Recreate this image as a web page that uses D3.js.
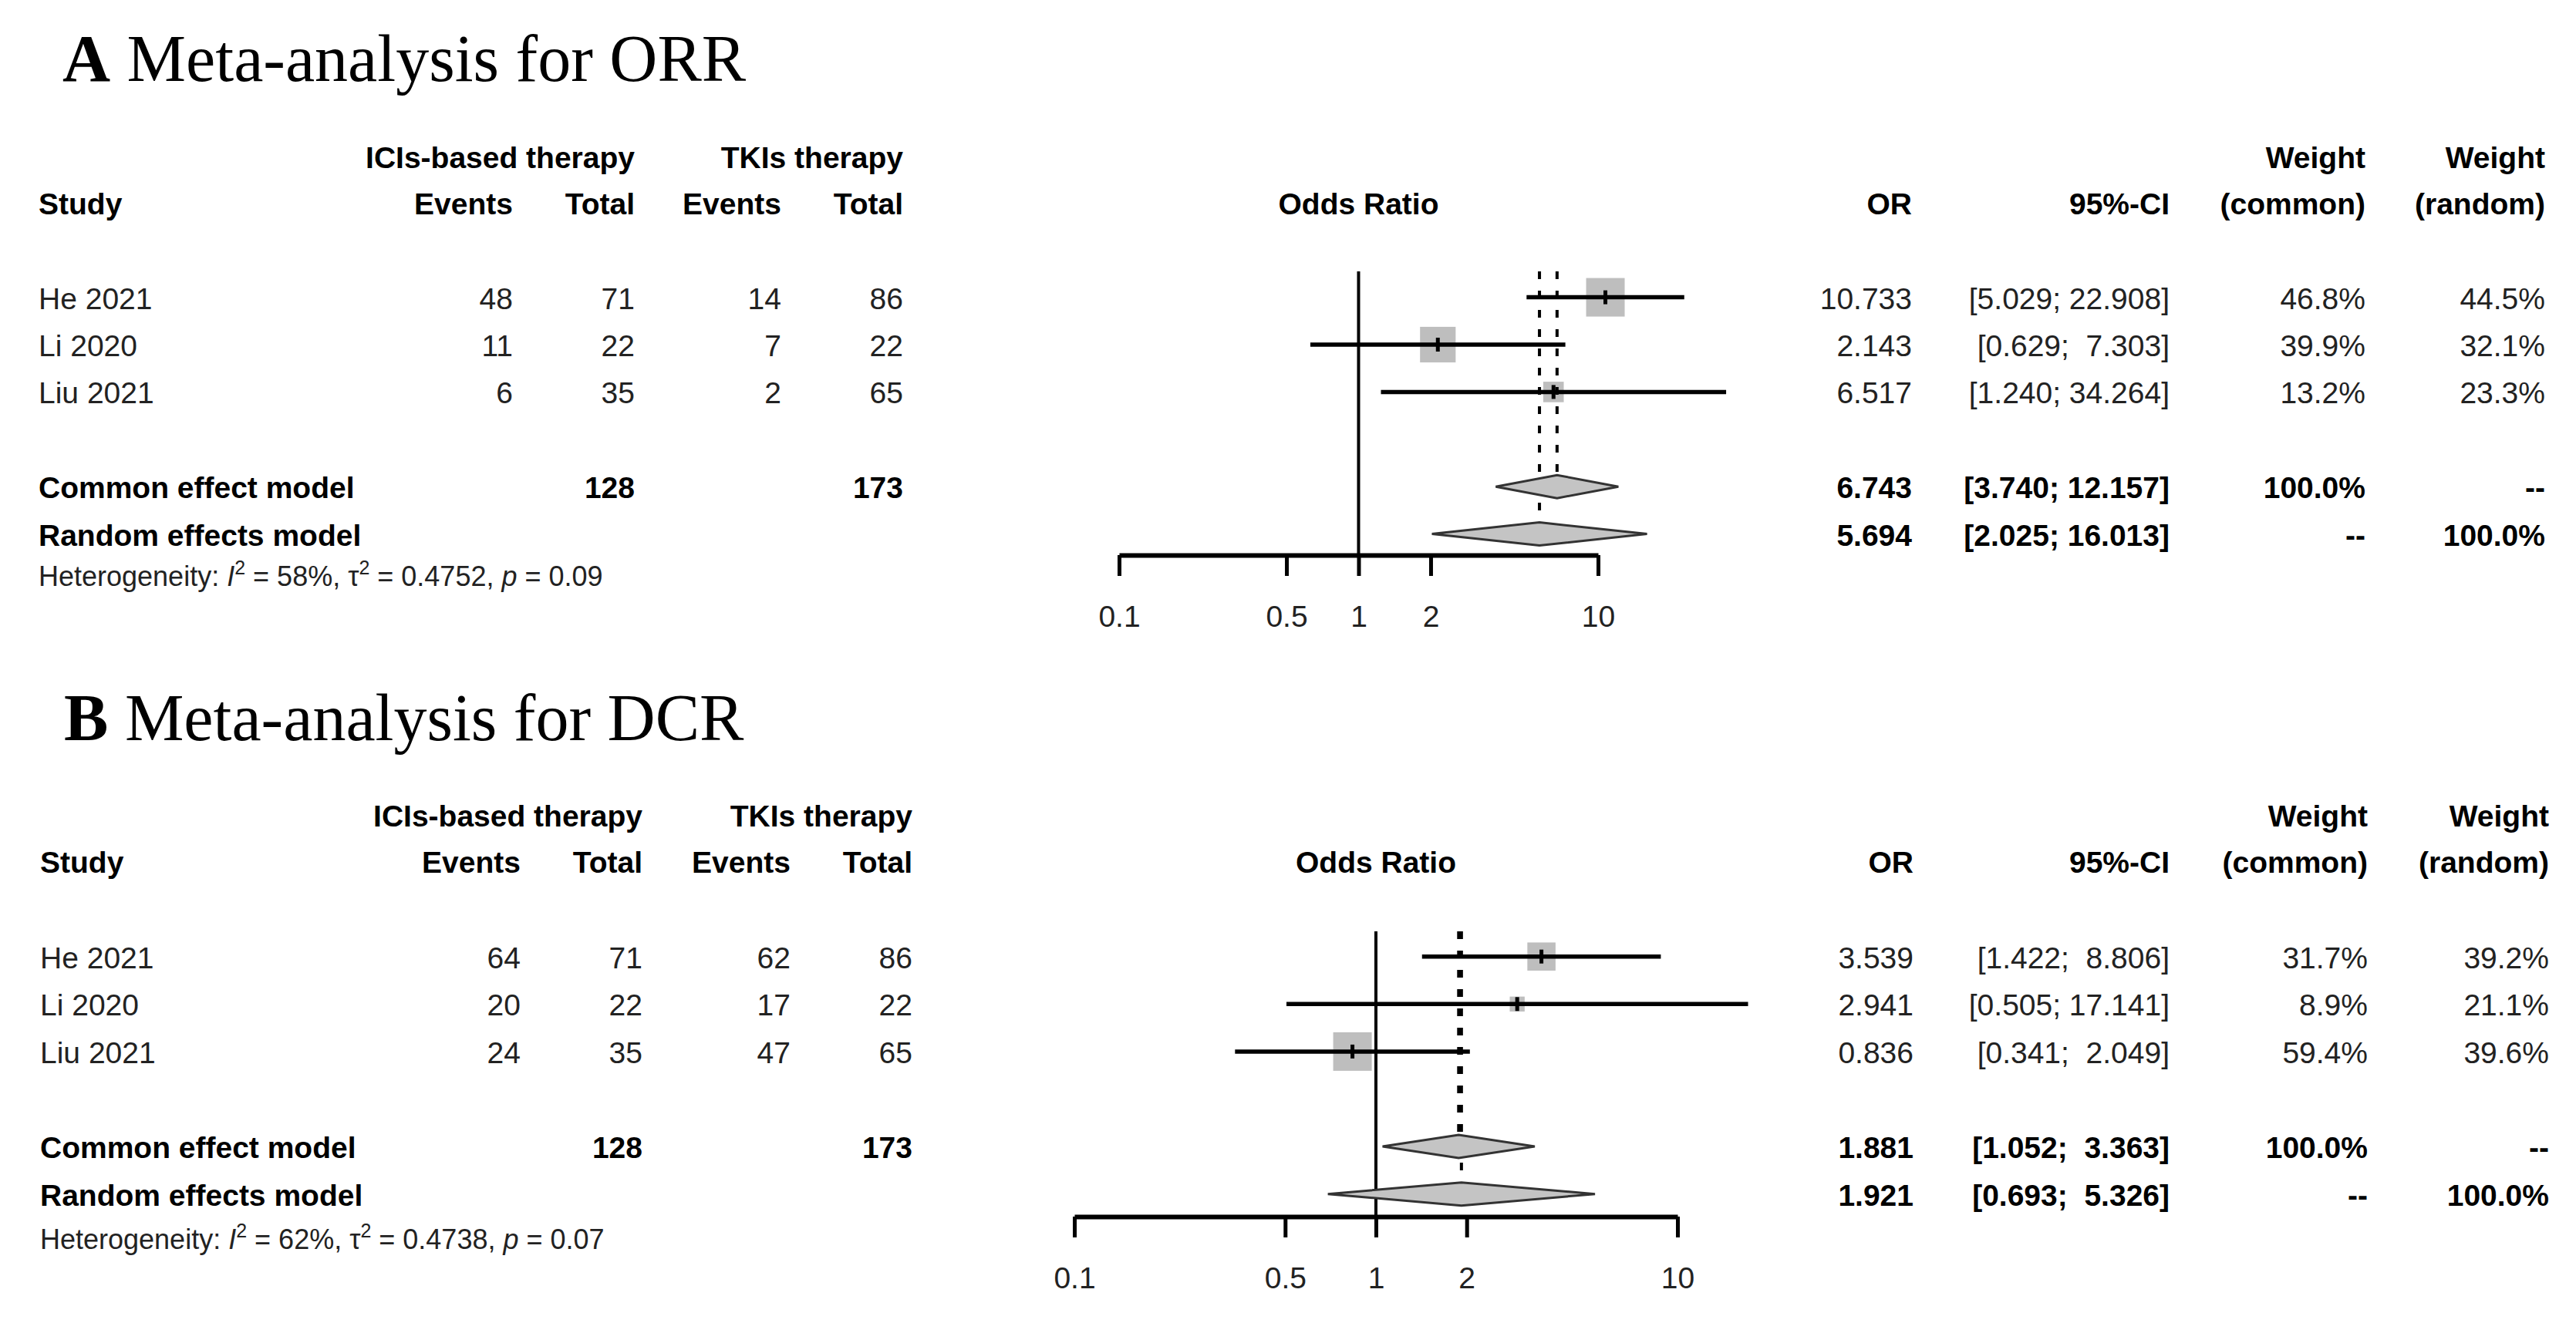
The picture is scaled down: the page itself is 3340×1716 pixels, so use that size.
<!DOCTYPE html>
<html>
<head>
<meta charset="utf-8">
<script src="https://cdn.jsdelivr.net/npm/d3@7"></script>
<style>
  body { margin: 0; background: #fff; }
  text { font-family: "Liberation Sans", Arial, Helvetica, sans-serif; }
</style>
</head>
<body>
<svg id="chart" width="3340" height="1716"></svg>
<script>
const studies = ["He 2021", "Li 2020", "Liu 2021"];
const ticks = [0.1, 0.5, 1, 2, 10];

// A: ORR
const orrEventsIci = [48, 11, 6];
const orrTotalIci = [71, 22, 35];
const orrEventsTki = [14, 7, 2];
const orrTotalTki = [86, 22, 65];
const orrOR = [10.733, 2.143, 6.517];
const orrLower = [5.029, 0.629, 1.240];
const orrUpper = [22.908, 7.303, 34.264];
const orrWCommon = [46.8, 39.9, 13.2];
const orrWRandom = [44.5, 32.1, 23.3];
const orrCommon = [6.743, 3.740, 12.157];
const orrRandom = [5.694, 2.025, 16.013];
const orrTotals = [128, 173];
const orrHet = ["58%", "0.4752", "0.09"];

// B: DCR
const dcrEventsIci = [64, 20, 24];
const dcrTotalIci = [71, 22, 35];
const dcrEventsTki = [62, 17, 47];
const dcrTotalTki = [86, 22, 65];
const dcrOR = [3.539, 2.941, 0.836];
const dcrLower = [1.422, 0.505, 0.341];
const dcrUpper = [8.806, 17.141, 2.049];
const dcrWCommon = [31.7, 8.9, 59.4];
const dcrWRandom = [39.2, 21.1, 39.6];
const dcrCommon = [1.881, 1.052, 3.363];
const dcrRandom = [1.921, 0.693, 5.326];
const dcrTotals = [128, 173];
const dcrHet = ["62%", "0.4738", "0.07"];

const svg = d3.select("#chart");
svg.append("rect").attr("width", 3340).attr("height", 1716).attr("fill", "#fff");

const f3 = d3.format(".3f");
const f1 = d3.format(".1f");

function drawPanel(p) {
  const g = svg.append("g");
  const x = d3.scaleLog().domain([0.1, 10]).range(p.xRange);
  const y = d3.scaleLinear().domain([0, 1]).range([p.rowTop, p.rowTop + p.rowStep]);
  const base = 15;
  const fs = 39;

  // title
  const title = g.append("text").attr("x", p.titleX).attr("y", p.titleY)
    .style("font-family", "'Liberation Serif', 'Times New Roman', serif")
    .attr("font-size", 86).attr("fill", "#000");
  title.append("tspan").attr("font-weight", "bold").text(p.letter);
  title.append("tspan").text(" " + p.title);

  const txt = (tx, ty, s, anchor, bold) => g.append("text")
    .attr("x", tx).attr("y", ty).attr("font-size", fs)
    .attr("text-anchor", anchor || "end")
    .attr("font-weight", bold ? "bold" : "normal")
    .attr("fill", bold ? "#000" : "#222")
    .style("white-space", "pre")
    .text(s);

  const c = p.cols;
  // headers
  txt(c.totE, p.hdr1, "ICIs-based therapy", "end", true);
  txt(c.totC, p.hdr1, "TKIs therapy", "end", true);
  txt(c.wc, p.hdr1, "Weight", "end", true);
  txt(c.wr, p.hdr1, "Weight", "end", true);
  txt(c.study, p.hdr2, "Study", "start", true);
  txt(c.evE, p.hdr2, "Events", "end", true);
  txt(c.totE, p.hdr2, "Total", "end", true);
  txt(c.evC, p.hdr2, "Events", "end", true);
  txt(c.totC, p.hdr2, "Total", "end", true);
  txt(x(1), p.hdr2, "Odds Ratio", "middle", true);
  txt(c.or, p.hdr2, "OR", "end", true);
  txt(c.ci, p.hdr2, "95%-CI", "end", true);
  txt(c.wc, p.hdr2, "(common)", "end", true);
  txt(c.wr, p.hdr2, "(random)", "end", true);

  const allUp = p.upper.concat([p.common[2], p.random[2]]).map(f3);
  const upW = d3.max(allUp, s => s.length);
  const allLo = p.lower.concat([p.common[1], p.random[1]]).map(f3);
  const loW = d3.max(allLo, s => s.length);
  const ci = (lo, hi) => "[" + f3(lo).padStart(loW) + "; " + f3(hi).padStart(upW) + "]";

  // study rows
  studies.forEach((s, i) => {
    const ty = y(i) + base;
    txt(c.study, ty, s, "start");
    txt(c.evE, ty, p.evE[i]);
    txt(c.totE, ty, p.totE[i]);
    txt(c.evC, ty, p.evC[i]);
    txt(c.totC, ty, p.totC[i]);
    txt(c.or, ty, f3(p.or[i]));
    txt(c.ci, ty, ci(p.lower[i], p.upper[i]));
    txt(c.wc, ty, f1(p.wc[i]) + "%");
    txt(c.wr, ty, f1(p.wr[i]) + "%");
  });

  // summary rows
  const yc = y(4), yr = y(5);
  txt(c.study, yc + base, "Common effect model", "start", true);
  txt(c.totE, yc + base, p.totals[0], "end", true);
  txt(c.totC, yc + base, p.totals[1], "end", true);
  txt(c.or, yc + base, f3(p.common[0]), "end", true);
  txt(c.ci, yc + base, ci(p.common[1], p.common[2]), "end", true);
  txt(c.wc, yc + base, "100.0%", "end", true);
  txt(c.wr, yc + base, "--", "end", true);
  txt(c.study, yr + base, "Random effects model", "start", true);
  txt(c.or, yr + base, f3(p.random[0]), "end", true);
  txt(c.ci, yr + base, ci(p.random[1], p.random[2]), "end", true);
  txt(c.wc, yr + base, "--", "end", true);
  txt(c.wr, yr + base, "100.0%", "end", true);

  // heterogeneity
  const het = g.append("text").attr("x", c.study).attr("y", p.hetY)
    .attr("font-size", 36).attr("fill", "#222").style("white-space", "pre");
  het.append("tspan").text("Heterogeneity: ");
  het.append("tspan").attr("font-style", "italic").text("I");
  het.append("tspan").attr("font-size", 25).attr("dy", -15).text("2");
  het.append("tspan").attr("dy", 15).text(" = " + p.het[0] + ", \u03c4");
  het.append("tspan").attr("font-size", 25).attr("dy", -15).text("2");
  het.append("tspan").attr("dy", 15).text(" = " + p.het[1] + ", ");
  het.append("tspan").attr("font-style", "italic").text("p");
  het.append("tspan").text(" = " + p.het[2]);

  // squares
  const maxW = d3.max(p.wc);
  const side = w => 50 * Math.sqrt(w / maxW);
  g.selectAll(".sq").data(p.or).join("rect")
    .attr("x", (d, i) => x(d) - side(p.wc[i]) / 2)
    .attr("y", (d, i) => y(i) - side(p.wc[i]) / 2)
    .attr("width", (d, i) => side(p.wc[i]))
    .attr("height", (d, i) => side(p.wc[i]))
    .attr("fill", "#bebebe");

  // reference line
  g.append("line").attr("x1", x(1)).attr("x2", x(1))
    .attr("y1", p.refTop).attr("y2", p.axisY)
    .attr("stroke", "#000").attr("stroke-width", 4);

  // dashed summary lines
  g.append("line").attr("x1", x(p.common[0])).attr("x2", x(p.common[0]))
    .attr("y1", p.refTop).attr("y2", yc - 15)
    .attr("stroke", "#000").attr("stroke-width", 4).attr("stroke-dasharray", "10,15");
  g.append("line").attr("x1", x(p.random[0])).attr("x2", x(p.random[0]))
    .attr("y1", p.refTop).attr("y2", yr - 15)
    .attr("stroke", "#000").attr("stroke-width", 4).attr("stroke-dasharray", "10,15");

  // CI lines
  g.selectAll(".ci").data(p.or).join("line")
    .attr("x1", (d, i) => x(p.lower[i])).attr("x2", (d, i) => x(p.upper[i]))
    .attr("y1", (d, i) => y(i)).attr("y2", (d, i) => y(i))
    .attr("stroke", "#000").attr("stroke-width", 5.5);
  g.selectAll(".est").data(p.or).join("line")
    .attr("x1", d => x(d)).attr("x2", d => x(d))
    .attr("y1", (d, i) => y(i) - 9).attr("y2", (d, i) => y(i) + 9)
    .attr("stroke", "#000").attr("stroke-width", 5);

  // diamonds
  const diamond = (v, yy) => `M${x(v[1])},${yy}L${x(v[0])},${yy - 15}L${x(v[2])},${yy}L${x(v[0])},${yy + 15}Z`;
  [[p.common, yc], [p.random, yr]].forEach(([v, yy]) => {
    g.append("path").attr("d", diamond(v, yy))
      .attr("fill", "#c4c4c4").attr("stroke", "#333").attr("stroke-width", 3);
  });

  // axis
  const ax = g.append("g").attr("transform", `translate(0,${p.axisY})`)
    .call(d3.axisBottom(x).tickValues(ticks).tickFormat(d => d)
      .tickSize(27).tickSizeOuter(0).tickPadding(38));
  ax.select(".domain").attr("stroke-width", 6);
  ax.selectAll(".tick line").attr("stroke-width", 5);
  ax.selectAll(".tick text").attr("font-size", 39).attr("fill", "#222")
    .style("font-family", "'Liberation Sans', Arial, sans-serif");
}

drawPanel({
  letter: "A", title: "Meta-analysis for ORR", titleX: 81, titleY: 105,
  hdr1: 218, hdr2: 278, rowTop: 385.6, rowStep: 61.4, hetY: 760,
  refTop: 352, axisY: 720, xRange: [1451, 2072],
  cols: { study: 50, evE: 665, totE: 823, evC: 1013, totC: 1171, or: 2479, ci: 2813, wc: 3067, wr: 3300 },
  evE: orrEventsIci, totE: orrTotalIci, evC: orrEventsTki, totC: orrTotalTki,
  or: orrOR, lower: orrLower, upper: orrUpper, wc: orrWCommon, wr: orrWRandom,
  common: orrCommon, random: orrRandom, totals: orrTotals, het: orrHet
});

drawPanel({
  letter: "B", title: "Meta-analysis for DCR", titleX: 83, titleY: 960,
  hdr1: 1072, hdr2: 1131.5, rowTop: 1240.7, rowStep: 61.6, hetY: 1620,
  refTop: 1208, axisY: 1578, xRange: [1393, 2175],
  cols: { study: 52, evE: 675, totE: 833, evC: 1025, totC: 1183, or: 2481, ci: 2813, wc: 3070, wr: 3305 },
  evE: dcrEventsIci, totE: dcrTotalIci, evC: dcrEventsTki, totC: dcrTotalTki,
  or: dcrOR, lower: dcrLower, upper: dcrUpper, wc: dcrWCommon, wr: dcrWRandom,
  common: dcrCommon, random: dcrRandom, totals: dcrTotals, het: dcrHet
});
</script>
</body>
</html>
